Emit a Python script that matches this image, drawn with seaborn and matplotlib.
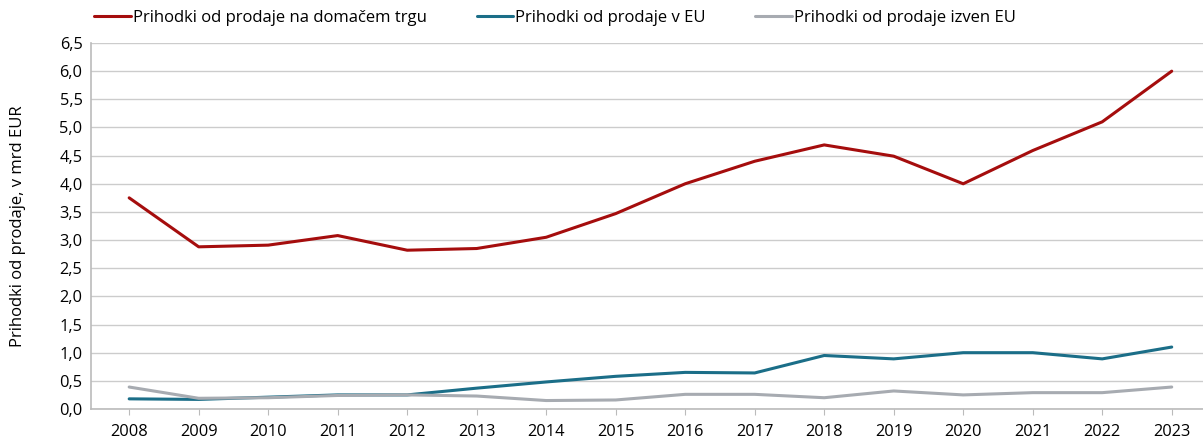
import numpy as np
import pandas as pd
import matplotlib
matplotlib.use("Agg")
import matplotlib.pyplot as plt
import seaborn as sns

# Data (mrd EUR)
years = list(range(2008, 2024))
domestic = [3.75, 2.88, 2.91, 3.08, 2.82, 2.85, 3.05, 3.47, 4.00, 4.40, 4.69, 4.49, 4.00, 4.59, 5.10, 6.00]
eu = [0.18, 0.17, 0.21, 0.25, 0.25, 0.37, 0.48, 0.58, 0.65, 0.64, 0.95, 0.89, 1.00, 1.00, 0.89, 1.10]
non_eu = [0.39, 0.19, 0.20, 0.24, 0.25, 0.23, 0.15, 0.16, 0.26, 0.26, 0.20, 0.32, 0.25, 0.29, 0.29, 0.39]

series_names = ["Prihodki od prodaje na domačem trgu",
                "Prihodki od prodaje v EU",
                "Prihodki od prodaje izven EU"]
colors = ["#A50D0D", "#1B6E88", "#A7ABB1"]

df = pd.DataFrame({"Leto": years,
                   series_names[0]: domestic,
                   series_names[1]: eu,
                   series_names[2]: non_eu})
long_df = df.melt(id_vars="Leto", var_name="Serija", value_name="Vrednost")

sns.set_style("white")
plt.rcParams["font.family"] = ["Open Sans", "DejaVu Sans"]
plt.rcParams["text.color"] = "black"
plt.rcParams["xtick.color"] = "black"
plt.rcParams["ytick.color"] = "black"
plt.rcParams["axes.labelcolor"] = "black"

fig = plt.figure(figsize=(12.03, 4.42), dpi=100)
ax = fig.add_axes([0.0756, 0.0747, 0.9244, 0.828])

sns.lineplot(data=long_df, x="Leto", y="Vrednost", hue="Serija",
             hue_order=series_names, palette=colors, linewidth=2.2, ax=ax)

ax.set_xlim(2007.45, 2023.45)
ax.set_ylim(0, 6.5)
ax.set_xticks(years)
ax.set_xticklabels([str(y) for y in years], fontsize=11.8)
yt = np.arange(0, 6.51, 0.5)
ax.set_yticks(yt)
ax.set_yticklabels([f"{v:.1f}".replace(".", ",") for v in yt], fontsize=11.8)
ax.yaxis.grid(True, color="#CCCCCC", linewidth=1)
ax.set_axisbelow(True)
ax.tick_params(axis="x", length=4, color="#BBBBBB", bottom=True, pad=7)
ax.tick_params(axis="y", length=0, pad=6)
for s in ["top", "right"]:
    ax.spines[s].set_visible(False)
for s in ["left", "bottom"]:
    ax.spines[s].set_color("#BBBBBB")
    ax.spines[s].set_linewidth(1.2)
ax.set_xlabel("")
ax.set_ylabel("Prihodki od prodaje, v mrd EUR", fontsize=12, labelpad=24)

handles, labels = ax.get_legend_handles_labels()
ax.get_legend().remove()
fig.legend(handles, labels, loc="upper left", bbox_to_anchor=(0.066, 1.012),
           ncol=3, frameon=False, fontsize=12, handlelength=2.2,
           handletextpad=0.1, columnspacing=3.0)

fig.savefig("out.png", dpi=100)
